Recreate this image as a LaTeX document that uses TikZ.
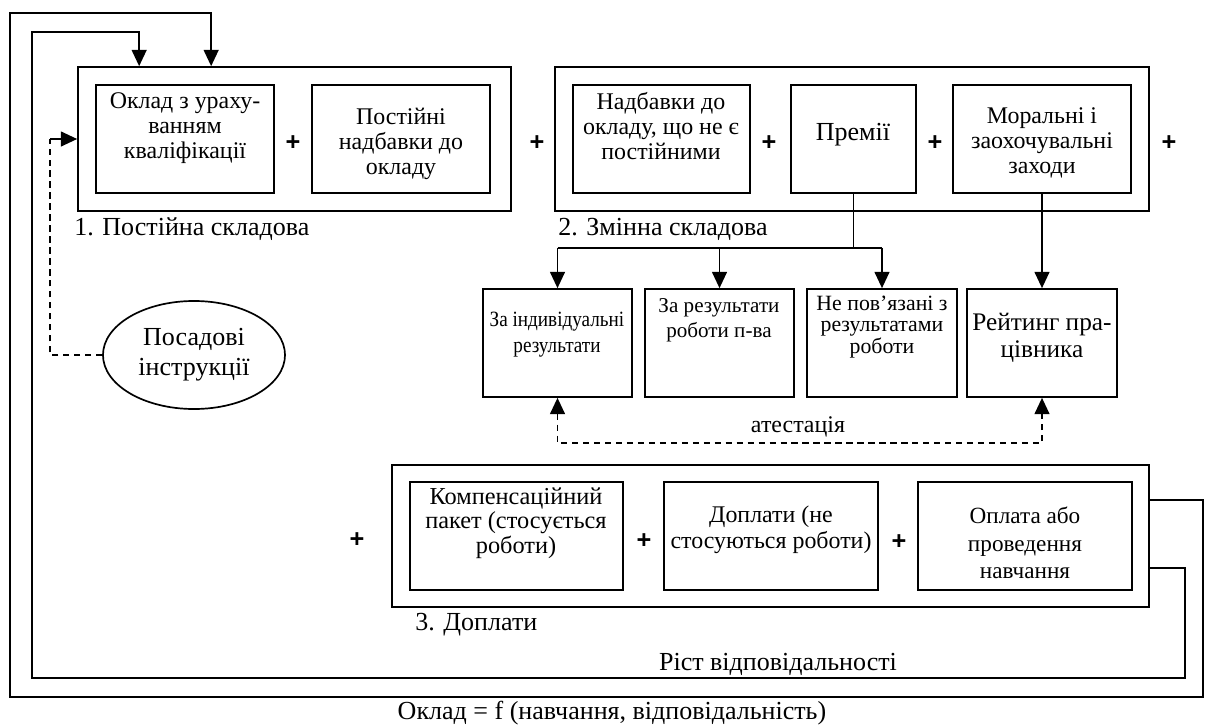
\documentclass[tikz,border=0pt]{standalone}
\usepackage{fontspec}
\setmainfont{Liberation Serif}
\newfontfamily\plusfont{Liberation Sans}
\newfontfamily\condfont[FakeStretch=0.88]{Liberation Serif}
\usetikzlibrary{arrows.meta,calc,fit,shapes.geometric}

\begin{document}
\begin{tikzpicture}[
    x=0.025cm, y=-0.025cm,
    >={Triangle[length=11.5pt,width=10.5pt]},
    frame/.style={draw, line width=1.2pt, inner sep=0pt},
    txt/.style={align=center, inner sep=0pt, font=\fontsize{17}{18}\selectfont},
    plus/.style={inner sep=0pt, font=\plusfont\bfseries\fontsize{18}{18}\selectfont},
    caption/.style={inner sep=0pt, font=\fontsize{18.5}{22}\selectfont},
    flow/.style={line width=1.2pt},
    link/.style={->, line width=1.2pt},
    dashline/.style={line width=1.2pt, dash pattern=on 4.5pt off 3.3pt}
    ]
\useasboundingbox (0,0) rectangle (1211,724);

% 1. POSTIJNA SKLADOVA
\node[frame, fit={(78,67) (511,211)}] (g1) {};
\node[frame, fit={(96,85) (274,193)}] (okl) {};
\node[frame, fit={(312,85) (490,193)}] (post) {};
\node[txt] (okl-t) at (185,128) {Оклад з ураху-\\ванням\\кваліфікації};
\node[txt] (post-t) at (401,144) {Постійні\\надбавки до\\окладу};
\node[caption, anchor=west] (g1-t) at (74,229) {1. Постійна складова};

% 2. ZMINNA SKLADOVA
\node[frame, fit={(555,67) (1149,211)}] (g2) {};
\node[frame, fit={(573,85) (750,193)}] (nadb) {};
\node[frame, fit={(791,85) (916,193)}] (prem) {};
\node[frame, fit={(953,85) (1131,193)}] (mor) {};
\node[txt] (nadb-t) at (661,126) {Надбавки до\\окладу, що не є\\постійними};
\node[txt, font=\fontsize{18.5}{20}\selectfont] (prem-t) at (853,135) {Премії};
\node[txt] (mor-t) at (1042,143) {Моральні і\\заохочувальні\\заходи};
\node[caption, anchor=west] (g2-t) at (558,229) {2. Змінна складова};

% premii / rating
\node[frame, fit={(483,289) (632,397)}] (indiv) {};
\node[frame, fit={(645,289) (794,397)}] (pidpr) {};
\node[frame, fit={(807,289) (957,397)}] (nepov) {};
\node[frame, fit={(967,289) (1117,397)}] (reit) {};
\node[txt, font=\condfont\fontsize{15.5}{18.5}\selectfont] (indiv-t) at (557,335) {За індивідуальні\\результати};
\node[txt, font=\fontsize{15}{18}\selectfont] (pidpr-t) at (719,320) {За результати\\роботи п-ва};
\node[txt, font=\fontsize{15.5}{15.5}\selectfont] (nepov-t) at (882,327) {Не пов’язані з\\результатами\\роботи};
\node[txt, font=\fontsize{18}{19}\selectfont] (reit-t) at (1042,338) {Рейтинг пра-\\цівника};

% 3. DOPLATY
\node[frame, fit={(392,465) (1149,607)}] (g3) {};
\node[frame, fit={(410,482) (623,590)}] (komp) {};
\node[frame, fit={(664,482) (878,590)}] (dopl) {};
\node[frame, fit={(918,482) (1132,590)}] (navch) {};
\node[txt, font=\fontsize{17.3}{17.5}\selectfont] (komp-t) at (516,523) {Компенсаційний\\пакет (стосується\\роботи)};
\node[txt, font=\fontsize{17}{18.5}\selectfont] (dopl-t) at (771,530) {Доплати (не\\стосуються роботи)};
\node[txt, font=\fontsize{16.5}{19.5}\selectfont] (navch-t) at (1025,543) {Оплата або\\проведення\\навчання};
\node[caption, anchor=west] (g3-t) at (415,625) {3. Доплати};

% plus signs
\foreach \px/\py [count=\i] in {293/143, 537/143, 769/143, 935/143, 1169/143, 357/540, 644/541, 899/542}
    \node[plus] (plus\i) at (\px,\py) {+};

% POSADOVI INSTRUKCII
\node[draw, ellipse, line width=1.2pt, inner sep=0pt, minimum width=4.55cm, minimum height=2.7cm,
      align=center, font=\fontsize{18.5}{21.5}\selectfont] (pos) at (194,355) {Посадові\\інструкції};
\coordinate (posbend) at (50,139);
\draw[dashline] (pos.west) -| (posbend);
\draw[link] (posbend) -- (g1.west);

% CONNECTORS
\draw[flow] (prem.south) -- ++(0,54) coordinate (split);
\draw[flow] (split -| indiv.north) -- (split -| nepov.north);
\foreach \b in {indiv,pidpr,nepov}
    \draw[link] (split -| \b.north) -- (\b.north);
\draw[link] (mor.south) -- (reit.north);

\draw[dashline, <->] (indiv.south) -- ++(0,45) -| (reit.south);
\node[caption, font=\fontsize{17}{20}\selectfont] (atest) at (798,427) {атестація};

% feedback loops
\draw[link] ($(g3.north east)+(0,36)$) -| (1203,697) -| (10,13) -| ($(g1.north west)+(134,0)$);
\draw[link] ($(g3.north east)+(0,104)$) -| (1185,678) -| (32,32) -| ($(g1.north west)+(62,0)$);

\node[caption] (rist) at (778,664) {Ріст відповідальності};
\node[caption] (formula) at (612,713) {Оклад = f (навчання, відповідальність)};
\end{tikzpicture}
\end{document}
